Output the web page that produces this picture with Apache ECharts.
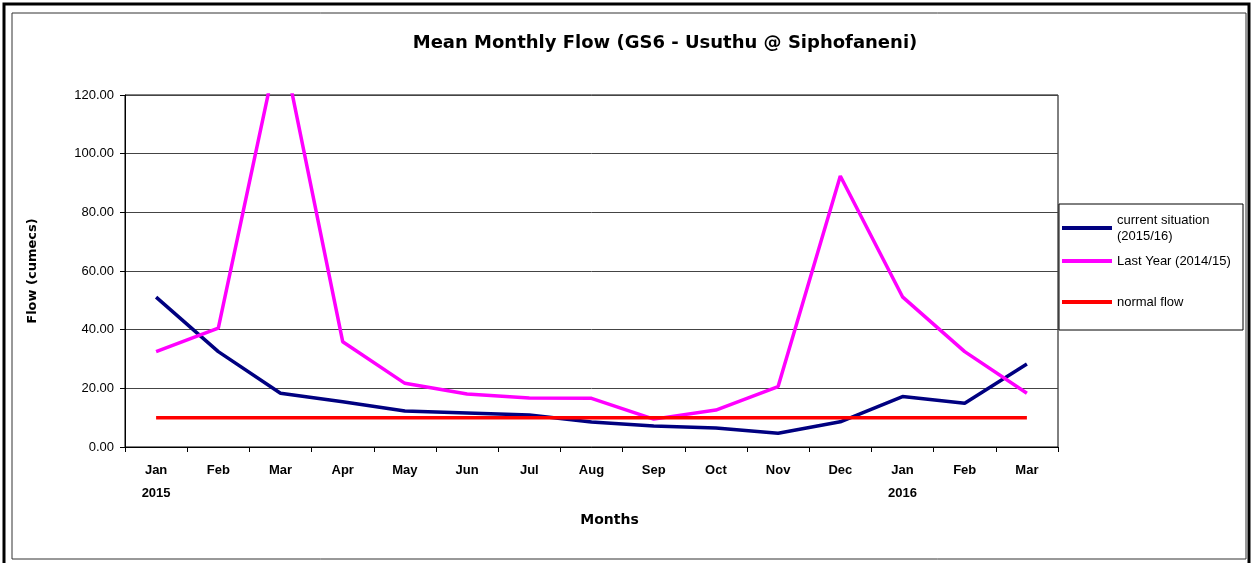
<!DOCTYPE html>
<html>
<head>
<meta charset="utf-8">
<script src="https://cdn.jsdelivr.net/npm/echarts@6/dist/echarts.min.js"></script>
<style>
  html, body { margin: 0; padding: 0; background: #fff; }
  #chart { width: 1253px; height: 563px; }
</style>
</head>
<body>
<div id="chart"></div>
<script>
const months = ['Jan\n2015', 'Feb', 'Mar', 'Apr', 'May', 'Jun', 'Jul', 'Aug', 'Sep', 'Oct', 'Nov', 'Dec', 'Jan\n2016', 'Feb', 'Mar']
const currentSituation = [51.1, 32.5, 18.3, 15.4, 12.3, 11.6, 10.9, 8.5, 7.2, 6.5, 4.7, 8.6, 17.2, 14.9, 28.3]
const lastYear = [32.5, 40.5, 140, 35.9, 21.7, 18.1, 16.7, 16.6, 9.5, 12.6, 20.6, 92.4, 51.2, 32.5, 18.3]
const normalFlow = [10, 10, 10, 10, 10, 10, 10, 10, 10, 10, 10, 10, 10, 10, 10]

const font = 'Liberation Sans, Arial, sans-serif'
const wideFont = 'DejaVu Sans, sans-serif'
const chart = echarts.init(document.getElementById('chart'))

const legendText = {
  fontFamily: font,
  fontSize: 13,
  color: '#000',
  lineHeight: 16
}

const option = {
  animation: false,
  backgroundColor: '#fff',
  title: {
    text: 'Mean Monthly Flow (GS6 - Usuthu @ Siphofaneni)',
    left: 660,
    textAlign: 'center',
    top: 29,
    textStyle: { fontFamily: wideFont, fontSize: 18, fontWeight: 'bold', color: '#000' }
  },
  graphic: [
    { type: 'rect', shape: { x: 4, y: 4, width: 1245, height: 580 }, style: { fill: 'none', stroke: '#000', lineWidth: 3 }, silent: true },
    { type: 'rect', shape: { x: 12, y: 13, width: 1234, height: 546 }, style: { fill: 'none', stroke: '#333', lineWidth: 1 }, silent: true },
    { type: 'rect', shape: { x: 1059, y: 204, width: 184, height: 126 }, style: { fill: '#fff', stroke: '#000', lineWidth: 1 }, z: 0, silent: true }
  ],
  legend: [
    {
      orient: 'vertical',
      left: 1062,
      top: 212,
      padding: 0,
      itemWidth: 50,
      itemHeight: 4,
      itemGap: 9,
      icon: 'rect',
      textStyle: legendText,
      data: ['current situation', 'Last Year (2014/15)'],
      formatter: function (name) {
        return name === 'current situation' ? 'current situation\n(2015/16)' : name
      }
    },
    {
      orient: 'vertical',
      left: 1062,
      top: 294,
      padding: 0,
      itemWidth: 50,
      itemHeight: 4,
      icon: 'rect',
      textStyle: legendText,
      data: ['normal flow']
    }
  ],
  grid: {
    left: 125,
    right: 195,
    top: 95,
    bottom: 116,
    show: true,
    borderColor: '#000',
    borderWidth: 1,
    backgroundColor: '#fff'
  },
  xAxis: {
    type: 'category',
    data: months,
    boundaryGap: true,
    name: 'Months',
    nameLocation: 'middle',
    nameGap: 66,
    nameTextStyle: { fontFamily: wideFont, fontSize: 14, fontWeight: 'bold', color: '#000', padding: [0, 0, 0, 36] },
    axisLine: { lineStyle: { color: '#000', width: 1 } },
    axisTick: { show: true, length: 5, lineStyle: { color: '#000' } },
    axisLabel: {
      interval: 0,
      margin: 12,
      fontFamily: font,
      fontSize: 13,
      fontWeight: 'bold',
      color: '#000',
      lineHeight: 23
    },
    splitLine: { show: false }
  },
  yAxis: {
    type: 'value',
    min: 0,
    max: 120,
    interval: 20,
    name: 'Flow (cumecs)',
    nameLocation: 'middle',
    nameRotate: 90,
    nameGap: 86,
    nameTextStyle: { fontFamily: wideFont, fontSize: 13, fontWeight: 'bold', color: '#000' },
    axisLine: { show: true, lineStyle: { color: '#000', width: 1 } },
    axisTick: { show: true, length: 5, lineStyle: { color: '#000' } },
    axisLabel: {
      margin: 11,
      fontFamily: font,
      fontSize: 13,
      color: '#000',
      formatter: function (v) { return v.toFixed(2) }
    },
    splitLine: { lineStyle: { color: '#444', width: 1 } }
  },
  series: [
    {
      name: 'current situation',
      type: 'line',
      data: currentSituation,
      symbol: 'none',
      color: '#000080',
      lineStyle: { width: 3.5, color: '#000080' },
      clip: true
    },
    {
      name: 'Last Year (2014/15)',
      type: 'line',
      data: lastYear,
      symbol: 'none',
      color: '#ff00ff',
      lineStyle: { width: 3.5, color: '#ff00ff' },
      clip: true
    },
    {
      name: 'normal flow',
      type: 'line',
      data: normalFlow,
      symbol: 'none',
      color: '#ff0000',
      lineStyle: { width: 3.5, color: '#ff0000' },
      clip: true
    }
  ]
}

chart.setOption(option)
</script>
</body>
</html>
